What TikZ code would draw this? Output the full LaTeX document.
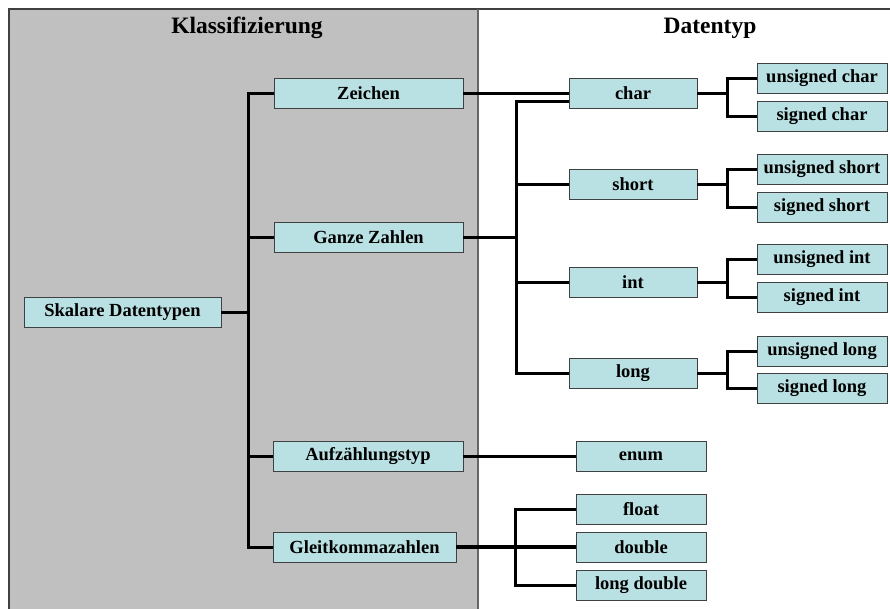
\documentclass[tikz,border=0pt]{standalone}
\usepackage{fontspec}
\setmainfont{Liberation Serif}
\begin{document}
\begin{tikzpicture}[x=1pt,y=-1pt,
  box/.style={draw=black!75,line width=0.9pt,fill=boxfill,minimum height=30pt,inner sep=0pt,font=\fontsize{18.5}{18.5}\selectfont\bfseries},
  conn/.style={line width=3pt,line cap=butt},
  title/.style={font=\fontsize{23.5}{23.5}\selectfont\bfseries}]
\definecolor{boxfill}{HTML}{B9E0E3}
\definecolor{bggray}{HTML}{C0C0C0}
\useasboundingbox (0,0) rectangle (890,608);
\fill[bggray] (9,9) rectangle (478,612);
\draw[black!75,line width=1.2pt] (9,612) -- (9,9) -- (895,9);
\draw[black!60,line width=1.2pt] (478,9) -- (478,612);
\node[title] (t1) at (247,28) {Klassifizierung};
\node[title] (t2) at (710,28) {Datentyp};
% left
\node[box,minimum width=197pt] (skal) at (122.5,312.5) {Skalare Datentypen};
\node[box,minimum width=189pt] (zei) at (368.5,93) {Zeichen};
\node[box,minimum width=189pt] (gz) at (368.5,237) {Ganze Zahlen};
\node[box,minimum width=190pt] (auf) at (368,456) {Aufzählungstyp};
\node[box,minimum width=183pt] (gk) at (364.5,547) {Gleitkommazahlen};
% middle
\node[box,minimum width=128pt] (char) at (633,93) {char};
\node[box,minimum width=128pt] (short) at (633,184) {short};
\node[box,minimum width=128pt] (int) at (633,282) {int};
\node[box,minimum width=128pt] (long) at (633,373) {long};
\node[box,minimum width=130pt] (enum) at (641,456) {enum};
\node[box,minimum width=130pt] (float) at (641,509) {float};
\node[box,minimum width=130pt] (double) at (641,547) {double};
\node[box,minimum width=130pt] (ldouble) at (641,585) {long double};
% right
\node[box,minimum width=130pt] (uc) at (822,78) {unsigned char};
\node[box,minimum width=130pt] (sc) at (822,116) {signed char};
\node[box,minimum width=130pt] (us) at (822,169) {unsigned short};
\node[box,minimum width=130pt] (ss) at (822,207) {signed short};
\node[box,minimum width=130pt] (ui) at (822,259.5) {unsigned int};
\node[box,minimum width=130pt] (si) at (822,297.5) {signed int};
\node[box,minimum width=130pt] (ul) at (822,351) {unsigned long};
\node[box,minimum width=130pt] (sl) at (822,388) {signed long};
% coordinates
\coordinate (b1) at (248,312.5);
\coordinate (b2) at (516,237);
\coordinate (b3) at (515,547);
% connectors
\draw[conn] (skal.east) -- (b1);
\draw[conn] (zei.west) -| (b1) |- (gk.west);
\draw[conn] (gz.west) -- (gz.west -| b1);
\draw[conn] (auf.west) -- (auf.west -| b1);
\draw[conn] (zei.east) -- (char.west);
\draw[conn] (gz.east) -- (b2);
\draw[conn] ([yshift=-8pt]char.west) -| (b2) |- (long.west);
\draw[conn] (short.west) -- (short.west -| b2);
\draw[conn] (int.west) -- (int.west -| b2);
\draw[conn] (auf.east) -- (enum.west);
\draw[conn,line width=4.5pt] (gk.east) -- (double.west);
\draw[conn] (float.west) -| (b3) |- (ldouble.west);
\foreach \p/\a/\b in {char/uc/sc,short/us/ss,int/ui/si,long/ul/sl}{
  \coordinate (j\p) at (727,0);
  \draw[conn] (\p.east) -- (\p.east -| j\p);
  \draw[conn] (\a.west) -| (j\p |- \p.east) |- (\b.west);
}
\end{tikzpicture}
\end{document}
